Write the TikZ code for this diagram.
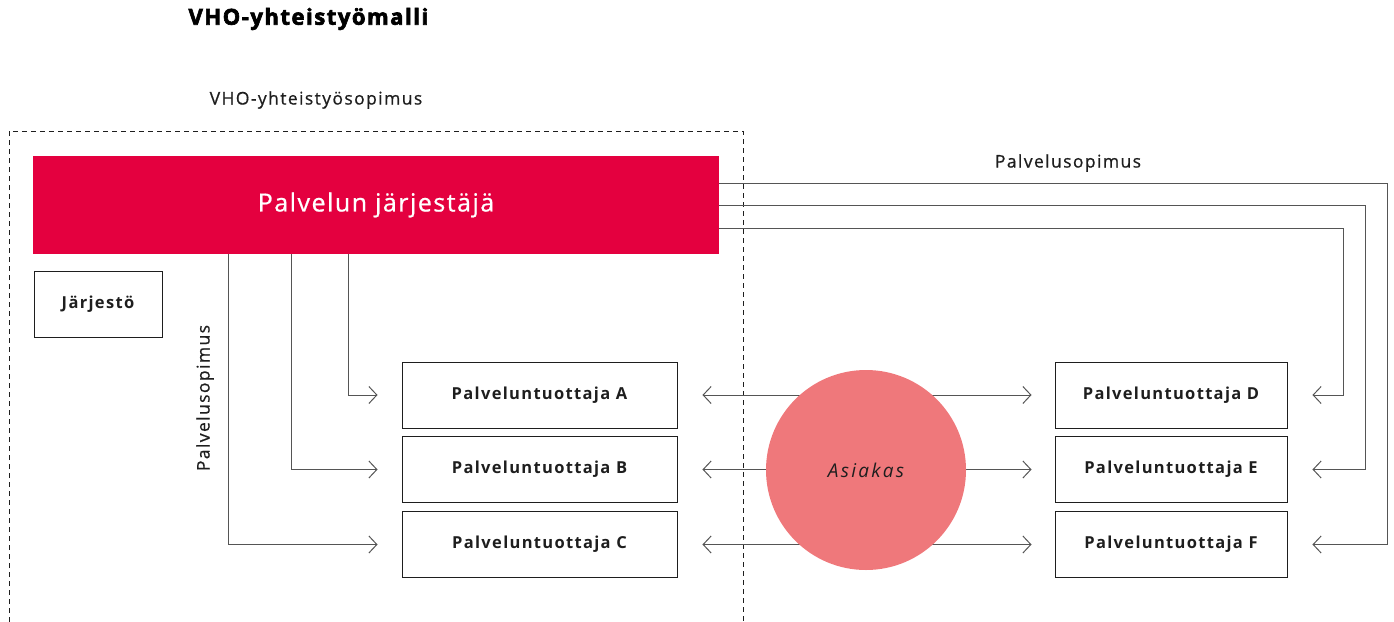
\documentclass[tikz,border=0pt]{standalone}
\usepackage{fontspec}
\setmainfont{Open Sans}[LetterSpace=8]
\newfontfamily\medfont{Open Sans}[LetterSpace=8,UprightFeatures={FakeBold=0.7}]
\newfontfamily\wordfont{Open Sans}[LetterSpace=6,UprightFeatures={FakeBold=0.7}]
\newfontfamily\heavyfont{Open Sans}[LetterSpace=7,BoldFeatures={FakeBold=3}]
\newfontfamily\itfont{Open Sans}[LetterSpace=12]
\usetikzlibrary{arrows.meta,calc}
\definecolor{jred}{HTML}{E4003F}
\definecolor{cpink}{HTML}{EF787B}
\definecolor{lgray}{HTML}{555555}
\definecolor{ink}{HTML}{1E1E1E}
\begin{document}
\begin{tikzpicture}[x=1pt,y=-1pt,
  conn/.style={draw=lgray,line width=1pt},
  tip/.style={-{Straight Barb[length=8pt,width=17pt,line width=1pt]}},
  bitip/.style={{Straight Barb[length=8pt,width=17pt,line width=1pt]}-{Straight Barb[length=8pt,width=17pt,line width=1pt]}},
  prodbox/.style={draw=ink,line width=0.9pt,minimum height=66pt,inner sep=0pt,
    font=\fontsize{16.5}{18}\selectfont\bfseries,text=ink},
  lbl/.style={font=\medfont\fontsize{17.5}{20}\selectfont,text=ink}]
\useasboundingbox (0,0) rectangle (1394,621);

% title and agreement label
\node[font=\heavyfont\fontsize{22}{24}\selectfont\bfseries,text=black,anchor=west] (title) at (185,19) {VHO-yhteistyömalli};
\node[lbl] (vho) at (316,100) {VHO-yhteistyösopimus};

% dashed agreement area, open at the bottom
\draw[ink,line width=0.9pt,dash pattern=on 5pt off 4pt] (9,640) -- (9,131) -- (743,131) -- (743,640);

% organiser
\node[fill=jred,minimum width=686pt,minimum height=98pt,inner sep=0pt,
  text=white,font=\wordfont\fontsize{25}{28}\selectfont] (pj) at (376,205) {Palvelun järjestäjä};
\node[draw=ink,line width=0.9pt,minimum width=128pt,minimum height=66pt,inner sep=0pt,
  font=\fontsize{16.5}{18}\selectfont\bfseries,text=ink] (jar) at (98,304) {Järjestö};

% service providers
\node[prodbox,minimum width=275pt] (A) at (539.5,395) {Palveluntuottaja A};
\node[prodbox,minimum width=275pt] (B) at (539.5,469.5) {Palveluntuottaja B};
\node[prodbox,minimum width=275pt] (C) at (539.5,544.5) {Palveluntuottaja C};
\node[prodbox,minimum width=232pt] (D) at (1171,395) {Palveluntuottaja D};
\node[prodbox,minimum width=232pt] (E) at (1171,469.5) {Palveluntuottaja E};
\node[prodbox,minimum width=232pt] (F) at (1171,544.5) {Palveluntuottaja F};

% client links (drawn under the circle)
\draw[conn,bitip,shorten <=25pt,shorten >=23pt] (A.east) -- (D.west);
\draw[conn,bitip,shorten <=25pt,shorten >=23pt] (B.east) -- (E.west);
\draw[conn,bitip,shorten <=25pt,shorten >=23pt] (C.east) -- (F.west);

\node[circle,fill=cpink,minimum size=200pt,inner sep=0pt,
  font=\itfont\fontsize{19}{22}\selectfont\itshape,text=ink] (as) at (866,470) {Asiakas};

% service contracts to A, B, C
\draw[conn,tip,shorten >=24pt] (pj.south -| 348,0) |- (A.west);
\draw[conn,tip,shorten >=24pt] (pj.south -| 291,0) |- (B.west);
\draw[conn,tip,shorten >=24pt] (pj.south -| 228,0) |- (C.west);
\node[lbl,rotate=90] (ps1) at (205,398) {Palvelusopimus};

% service contracts to D, E, F
\coordinate (dS) at ($(pj.north east)+(0,73)$);
\coordinate (eS) at ($(pj.north east)+(0,50)$);
\coordinate (fS) at ($(pj.north east)+(0,28)$);
\coordinate (dR) at (1343,0);
\coordinate (eR) at (1365,0);
\coordinate (fR) at (1387,0);
\draw[conn,tip,shorten >=25pt] (dS) -- (dS -| dR) |- (D.east);
\draw[conn,tip,shorten >=25pt] (eS) -- (eS -| eR) |- (E.east);
\draw[conn,tip,shorten >=25pt] (fS) -- (fS -| fR) |- (F.east);
\node[lbl] (ps2) at (1068,163) {Palvelusopimus};
\end{tikzpicture}
\end{document}
